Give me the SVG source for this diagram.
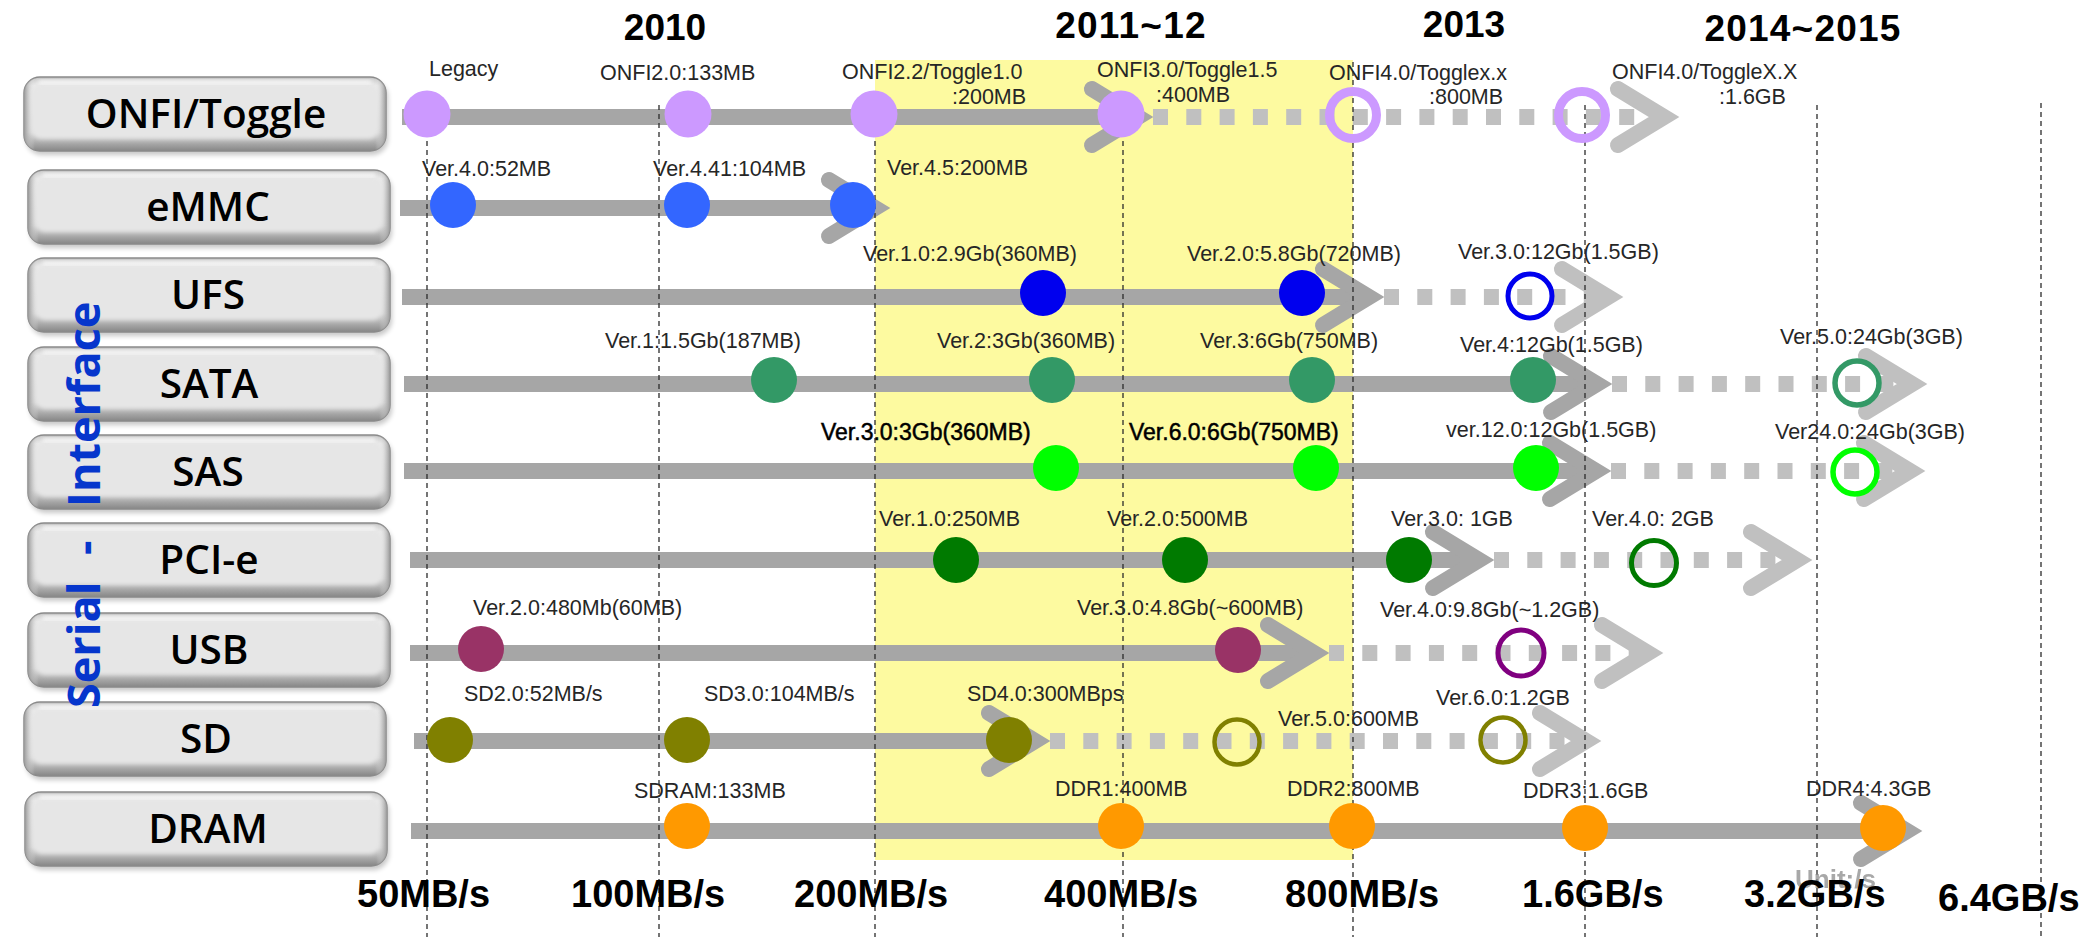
<svg xmlns="http://www.w3.org/2000/svg" xmlns:xlink="http://www.w3.org/1999/xlink" width="2080" height="937" viewBox="0 0 2080 937">
  <defs>
    <style>
      .lbl { font-family: "Liberation Sans", Arial, sans-serif; font-size: 21.5px; fill: #262626; }
      .lblb { font-family: "Liberation Sans", Arial, sans-serif; font-size: 23px; fill: #000; stroke: #000; stroke-width: 0.5px; }
      .yr { font-family: "Liberation Sans", Arial, sans-serif; font-size: 37px; font-weight: bold; fill: #000; text-anchor: middle; }
      .wide { letter-spacing: 1.2px; }
      .ax { font-family: "Liberation Sans", Arial, sans-serif; font-size: 38px; font-weight: bold; fill: #000; }
      .unit { font-family: "Liberation Sans", Arial, sans-serif; font-size: 26px; font-weight: bold; fill: #8c8c8c; opacity: 0.75; }
      .node text { font-family: "Open Sans", "Noto Sans", sans-serif; font-weight: 600; font-size: 40.5px; fill: #000; text-anchor: middle; }
      .side { font-family: "Open Sans", "Noto Sans", sans-serif; font-weight: bold; font-size: 45px; fill: #0636cc; }
      .bar { stroke: #a6a6a6; stroke-width: 16; fill: none; }
      .dot { stroke: #c0c0c0; stroke-width: 16; stroke-dasharray: 15 18.3; fill: none; }
      .chs { fill: none; stroke: #a6a6a6; stroke-width: 16; stroke-linecap: round; stroke-linejoin: miter; }
      .chl { fill: none; stroke: #c0c0c0; stroke-width: 16; stroke-linecap: round; stroke-linejoin: miter; }
      .grid { stroke: #2b2b2b; stroke-width: 1.3; stroke-dasharray: 5 4; fill: none; }
      .ring { fill: none; }
    </style>
    <linearGradient id="bevel" x1="0" y1="0" x2="0" y2="1">
      <stop offset="0" stop-color="#c4c4c4"/>
      <stop offset="0.12" stop-color="#ececec"/>
      <stop offset="0.75" stop-color="#d9d9d9"/>
      <stop offset="1" stop-color="#868686"/>
    </linearGradient>
    <linearGradient id="sides" x1="0" y1="0" x2="1" y2="0">
      <stop offset="0" stop-color="#9a9a9a"/>
      <stop offset="0.03" stop-color="#e0e0e0" stop-opacity="0"/>
      <stop offset="0.97" stop-color="#e0e0e0" stop-opacity="0"/>
      <stop offset="1" stop-color="#9a9a9a"/>
    </linearGradient>
    <filter id="soft" x="-5%" y="-20%" width="110%" height="140%">
      <feGaussianBlur stdDeviation="2.2"/>
    </filter>
    <filter id="shadow" x="-5%" y="-20%" width="110%" height="150%">
      <feGaussianBlur stdDeviation="2.5"/>
    </filter>
    <!-- open arrowhead, tip at the origin -->
    <path id="chev" d="M-61,-28 L-15,0 L-61,28"/>
    <!-- bevelled label plate -->
    <g id="box">
      <rect x="2" y="4" width="362" height="74" rx="16" fill="#000" opacity="0.22" filter="url(#shadow)"/>
      <rect x="0" y="0" width="362" height="74" rx="16" fill="url(#bevel)" stroke="#8a8a8a" stroke-width="1.5"/>
      <rect x="0" y="0" width="362" height="74" rx="16" fill="url(#sides)"/>
      <rect x="7" y="6" width="348" height="56" rx="11" fill="#e6e6e6" filter="url(#soft)"/>
      <rect x="14" y="3" width="334" height="4" rx="2" fill="#ffffff" opacity="0.8" filter="url(#soft)"/>
    </g>
  </defs>

  <rect width="2080" height="937" fill="#ffffff"/>

  <!-- highlighted period -->
  <rect x="875" y="60" width="478" height="800" fill="#fdfaa0"/>

  <!-- year headings -->
  <g id="years">
    <text class="yr" x="665" y="40">2010</text>
    <text class="yr wide" x="1131" y="38">2011~12</text>
    <text class="yr" x="1464" y="37">2013</text>
    <text class="yr wide" x="1803" y="41">2014~2015</text>
  </g>

  <!-- interface boxes -->
  <g id="node-onfi" class="node"><use xlink:href="#box" transform="translate(24,77)"/><text x="206" y="128">ONFI/Toggle</text></g>
  <g id="node-emmc" class="node"><use xlink:href="#box" transform="translate(28,170)"/><text x="208" y="221">eMMC</text></g>
  <g id="node-ufs" class="node"><use xlink:href="#box" transform="translate(28,258)"/><text x="208" y="309">UFS</text></g>
  <g id="node-sata" class="node"><use xlink:href="#box" transform="translate(28,347)"/><text x="209" y="398">SATA</text></g>
  <g id="node-sas" class="node"><use xlink:href="#box" transform="translate(28,435)"/><text x="208" y="486">SAS</text></g>
  <g id="node-pcie" class="node"><use xlink:href="#box" transform="translate(28,523)"/><text x="209" y="574">PCI-e</text></g>
  <g id="node-usb" class="node"><use xlink:href="#box" transform="translate(28,613)"/><text x="209" y="664">USB</text></g>
  <g id="node-sd" class="node"><use xlink:href="#box" transform="translate(24,702)"/><text x="206" y="753">SD</text></g>
  <g id="node-dram" class="node"><use xlink:href="#box" transform="translate(25,792)"/><text x="208" y="843">DRAM</text></g>

  <!-- vertical group title -->
  <text class="side" transform="translate(100,0) rotate(-90)"><tspan x="-708" y="0">Serial</tspan><tspan x="-555" y="0">-</tspan><tspan x="-507" y="0">Interface</tspan></text>

  <!-- timeline bars and arrowheads -->
  <g id="connectors">
    <line class="bar" x1="402" y1="117" x2="1138" y2="117"/>
    <line class="dot" x1="1153" y1="117" x2="1655" y2="117"/>
    <use class="chs" xlink:href="#chev" x="1153" y="117"/>
    <use class="chl" xlink:href="#chev" x="1679" y="117"/>

    <line class="bar" x1="400" y1="208" x2="875" y2="208"/>
    <use class="chs" xlink:href="#chev" x="890" y="208"/>

    <line class="bar" x1="402" y1="297" x2="1369" y2="297"/>
    <line class="dot" x1="1384" y1="297" x2="1600" y2="297"/>
    <use class="chs" xlink:href="#chev" x="1384" y="297"/>
    <use class="chl" xlink:href="#chev" x="1623" y="297"/>

    <line class="bar" x1="404" y1="384" x2="1597" y2="384"/>
    <line class="dot" x1="1612" y1="384" x2="1905" y2="384"/>
    <use class="chs" xlink:href="#chev" x="1612" y="384"/>
    <use class="chl" xlink:href="#chev" x="1927" y="384"/>

    <line class="bar" x1="404" y1="471" x2="1596" y2="471"/>
    <line class="dot" x1="1611" y1="471" x2="1903" y2="471"/>
    <use class="chs" xlink:href="#chev" x="1611" y="471"/>
    <use class="chl" xlink:href="#chev" x="1925" y="471"/>

    <line class="bar" x1="410" y1="560" x2="1479" y2="560"/>
    <line class="dot" x1="1494" y1="560" x2="1790" y2="560"/>
    <use class="chs" xlink:href="#chev" x="1494" y="560"/>
    <use class="chl" xlink:href="#chev" x="1812" y="560"/>

    <line class="bar" x1="410" y1="653" x2="1314" y2="653"/>
    <line class="dot" x1="1329" y1="653" x2="1640" y2="653"/>
    <use class="chs" xlink:href="#chev" x="1329" y="653"/>
    <use class="chl" xlink:href="#chev" x="1663" y="653"/>

    <line class="bar" x1="414" y1="741" x2="1035" y2="741"/>
    <line class="dot" x1="1050" y1="741" x2="1578" y2="741"/>
    <use class="chs" xlink:href="#chev" x="1050" y="741"/>
    <use class="chl" xlink:href="#chev" x="1601" y="741"/>

    <line class="bar" x1="411" y1="831" x2="1907" y2="831"/>
    <use class="chs" xlink:href="#chev" x="1922" y="831"/>
  </g>

  <!-- speed grid -->
  <g id="grid">
    <line class="grid" x1="427" y1="105" x2="427" y2="937"/>
    <line class="grid" x1="659" y1="105" x2="659" y2="937"/>
    <line class="grid" x1="875" y1="105" x2="875" y2="937"/>
    <line class="grid" x1="1123" y1="105" x2="1123" y2="937"/>
    <line class="grid" x1="1353" y1="62" x2="1353" y2="937"/>
    <line class="grid" x1="1585" y1="105" x2="1585" y2="937"/>
    <line class="grid" x1="1817" y1="105" x2="1817" y2="937"/>
    <line class="grid" x1="2041" y1="103" x2="2041" y2="937"/>
  </g>

  <!-- milestones -->
  <g id="m-onfi" fill="#cc99ff">
    <circle cx="427" cy="114" r="23.5"/>
    <circle cx="688" cy="114" r="23.5"/>
    <circle cx="874" cy="114" r="23.5"/>
    <circle cx="1121" cy="114" r="23.5"/>
    <circle class="ring" cx="1353" cy="115" r="23.5" stroke="#cc99ff" stroke-width="9"/>
    <circle class="ring" cx="1582" cy="115" r="23.5" stroke="#cc99ff" stroke-width="9"/>
  </g>
  <g id="m-emmc" fill="#3366ff">
    <circle cx="453" cy="205" r="23"/>
    <circle cx="687" cy="205" r="23"/>
    <circle cx="853" cy="205" r="23"/>
  </g>
  <g id="m-ufs" fill="#0000ee">
    <circle cx="1043" cy="293" r="23"/>
    <circle cx="1302" cy="293" r="23"/>
    <circle class="ring" cx="1530" cy="296" r="22" stroke="#0000ee" stroke-width="5"/>
  </g>
  <g id="m-sata" fill="#339966">
    <circle cx="774" cy="380" r="23"/>
    <circle cx="1052" cy="380" r="23"/>
    <circle cx="1312" cy="380" r="23"/>
    <circle cx="1533" cy="380" r="23"/>
    <circle class="ring" cx="1857" cy="383" r="22" stroke="#339966" stroke-width="5.5"/>
  </g>
  <g id="m-sas" fill="#00ff00">
    <circle cx="1056" cy="468" r="23"/>
    <circle cx="1316" cy="468" r="23"/>
    <circle cx="1536" cy="468" r="23"/>
    <circle class="ring" cx="1855" cy="472" r="22" stroke="#00ff00" stroke-width="5.5"/>
  </g>
  <g id="m-pcie" fill="#007a00">
    <circle cx="956" cy="560" r="23"/>
    <circle cx="1185" cy="560" r="23"/>
    <circle cx="1409" cy="560" r="23"/>
    <circle class="ring" cx="1654" cy="563" r="22.5" stroke="#007a00" stroke-width="5"/>
  </g>
  <g id="m-usb" fill="#993366">
    <circle cx="481" cy="649" r="23"/>
    <circle cx="1238" cy="650" r="23"/>
    <circle class="ring" cx="1521" cy="653" r="23" stroke="#800080" stroke-width="5"/>
  </g>
  <g id="m-sd" fill="#808000">
    <circle cx="450" cy="740" r="23"/>
    <circle cx="687" cy="740" r="23"/>
    <circle cx="1009" cy="740" r="23"/>
    <circle class="ring" cx="1237" cy="742" r="22.5" stroke="#808000" stroke-width="4.5"/>
    <circle class="ring" cx="1503" cy="740" r="22.5" stroke="#808000" stroke-width="4.5"/>
  </g>
  <g id="m-dram" fill="#ff9900">
    <circle cx="687" cy="826" r="23"/>
    <circle cx="1121" cy="826" r="23"/>
    <circle cx="1352" cy="826" r="23"/>
    <circle cx="1585" cy="828" r="23"/>
    <circle cx="1883" cy="828" r="23"/>
  </g>

  <!-- milestone labels -->
  <g id="labels">
    <text class="lbl" x="429" y="76">Legacy</text>
    <text class="lbl" x="600" y="80">ONFI2.0:133MB</text>
    <text class="lbl" x="842" y="79">ONFI2.2/Toggle1.0</text>
    <text class="lbl" x="952" y="104">:200MB</text>
    <text class="lbl" x="1097" y="77">ONFI3.0/Toggle1.5</text>
    <text class="lbl" x="1156" y="102">:400MB</text>
    <text class="lbl" x="1329" y="80">ONFI4.0/Togglex.x</text>
    <text class="lbl" x="1429" y="104">:800MB</text>
    <text class="lbl" x="1612" y="79">ONFI4.0/ToggleX.X</text>
    <text class="lbl" x="1719" y="104">:1.6GB</text>

    <text class="lbl" x="422" y="176">Ver.4.0:52MB</text>
    <text class="lbl" x="653" y="176">Ver.4.41:104MB</text>
    <text class="lbl" x="887" y="175">Ver.4.5:200MB</text>

    <text class="lbl" x="863" y="261">Ver.1.0:2.9Gb(360MB)</text>
    <text class="lbl" x="1187" y="261">Ver.2.0:5.8Gb(720MB)</text>
    <text class="lbl" x="1458" y="259">Ver.3.0:12Gb(1.5GB)</text>

    <text class="lbl" x="605" y="348">Ver.1:1.5Gb(187MB)</text>
    <text class="lbl" x="937" y="348">Ver.2:3Gb(360MB)</text>
    <text class="lbl" x="1200" y="348">Ver.3:6Gb(750MB)</text>
    <text class="lbl" x="1460" y="352">Ver.4:12Gb(1.5GB)</text>
    <text class="lbl" x="1780" y="344">Ver.5.0:24Gb(3GB)</text>

    <text class="lblb" x="821" y="440">Ver.3.0:3Gb(360MB)</text>
    <text class="lblb" x="1129" y="440">Ver.6.0:6Gb(750MB)</text>
    <text class="lbl" x="1446" y="437">ver.12.0:12Gb(1.5GB)</text>
    <text class="lbl" x="1775" y="439">Ver24.0:24Gb(3GB)</text>

    <text class="lbl" x="879" y="526">Ver.1.0:250MB</text>
    <text class="lbl" x="1107" y="526">Ver.2.0:500MB</text>
    <text class="lbl" x="1391" y="526">Ver.3.0: 1GB</text>
    <text class="lbl" x="1592" y="526">Ver.4.0: 2GB</text>

    <text class="lbl" x="473" y="615">Ver.2.0:480Mb(60MB)</text>
    <text class="lbl" x="1077" y="615">Ver.3.0:4.8Gb(~600MB)</text>
    <text class="lbl" x="1380" y="617">Ver.4.0:9.8Gb(~1.2GB)</text>

    <text class="lbl" x="464" y="701">SD2.0:52MB/s</text>
    <text class="lbl" x="704" y="701">SD3.0:104MB/s</text>
    <text class="lbl" x="967" y="701">SD4.0:300MBps</text>
    <text class="lbl" x="1278" y="726">Ver.5.0:600MB</text>
    <text class="lbl" x="1436" y="705">Ver.6.0:1.2GB</text>

    <text class="lbl" x="634" y="798">SDRAM:133MB</text>
    <text class="lbl" x="1055" y="796">DDR1:400MB</text>
    <text class="lbl" x="1287" y="796">DDR2:800MB</text>
    <text class="lbl" x="1523" y="798">DDR3:1.6GB</text>
    <text class="lbl" x="1806" y="796">DDR4:4.3GB</text>
  </g>

  <!-- speed axis -->
  <g id="axis">
    <text class="unit" x="1795" y="888">Unit:/s</text>
    <text class="ax" x="357" y="907">50MB/s</text>
    <text class="ax" x="571" y="907">100MB/s</text>
    <text class="ax" x="794" y="907">200MB/s</text>
    <text class="ax" x="1044" y="907">400MB/s</text>
    <text class="ax" x="1285" y="907">800MB/s</text>
    <text class="ax" x="1522" y="907">1.6GB/s</text>
    <text class="ax" x="1744" y="907">3.2GB/s</text>
    <text class="ax" x="1938" y="911">6.4GB/s</text>
  </g>
</svg>
